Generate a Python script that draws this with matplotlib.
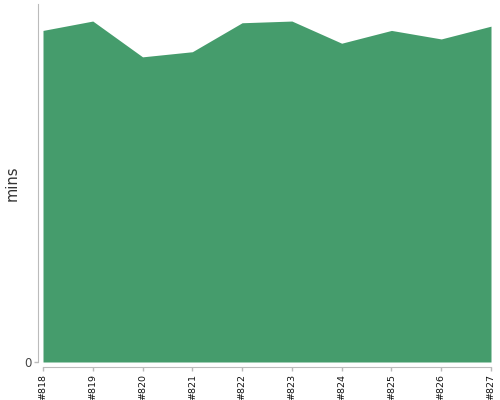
import matplotlib
matplotlib.use("Agg")
import matplotlib.pyplot as plt

builds = ["#818", "#819", "#820", "#821", "#822", "#823", "#824", "#825", "#826", "#827"]
mins = [38.9, 40.0, 35.8, 36.4, 39.8, 40.0, 37.4, 38.9, 37.9, 39.4]

fig = plt.figure(figsize=(5, 4), dpi=100)
ax = fig.add_axes([0.086, 0.095, 0.896, 0.895])
x = list(range(len(builds)))
ax.fill_between(x, 0, mins, color="#459c6c", linewidth=0)
ax.set_xlim(0, len(builds) - 1)
ax.set_ylim(0, 42)
ax.set_xticks(x, builds)
ax.set_yticks([0], ["0"])
for s in ["top", "right"]:
    ax.spines[s].set_visible(False)
for s in ["left", "bottom"]:
    ax.spines[s].set_color("#bbbbbb")
    ax.spines[s].set_position(("outward", 3.5))
ax.tick_params(axis="both", color="#bbbbbb", length=3, width=1, pad=2)
ax.tick_params(axis="x", labelrotation=90, labelsize=6.8, labelcolor="#111111")
ax.tick_params(axis="y", labelsize=8.5, labelcolor="#444444")
ax.set_ylabel("mins", fontsize=10.5, color="#333333")
ax.yaxis.set_label_coords(-0.052, 0.5)
fig.savefig("out.png", dpi=100)
